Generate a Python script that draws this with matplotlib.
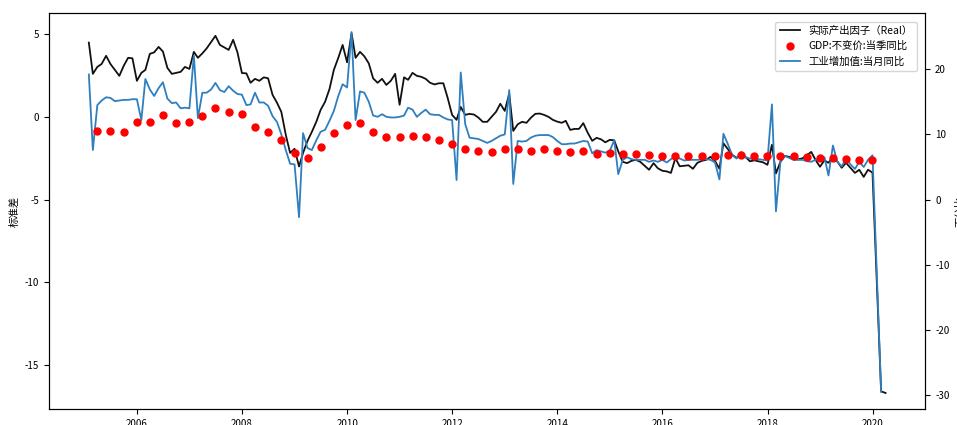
import matplotlib
matplotlib.use('Agg')
import matplotlib.pyplot as plt
import matplotlib.dates as mdates
import pandas as pd

plt.rcParams['font.family'] = ['Noto Sans CJK SC', 'DejaVu Sans']
plt.rcParams['axes.unicode_minus'] = False

# 实际产出因子, monthly (standard deviations)
real_factor = [
    4.49, 2.60, 3.02, 3.2, 3.69, 3.2, 2.84, 2.48, 3.08, 3.57, 3.54, 2.18,
    2.66, 2.84, 3.81, 3.9, 4.23, 3.95, 2.96, 2.6, 2.66, 2.72, 3.02, 2.9,
    3.93, 3.57, 3.84, 4.14, 4.53, 4.9, 4.35, 4.2, 4.05, 4.66, 3.9, 2.65,
    2.63, 2.06, 2.3, 2.18, 2.39, 2.33, 1.33, 0.85, 0.3, -1.09, -2.18, -1.93,
    -3.0, -2.18, -1.45, -0.91, -0.3, 0.42, 0.91, 1.69, 2.84, 3.57, 4.35, 3.3,
    5.06, 3.57, 3.93, 3.66, 3.23, 2.33, 2.06, 2.3, 1.93, 2.18, 2.6, 0.73,
    2.39, 2.24, 2.66, 2.48, 2.42, 2.3, 2.06, 1.96, 2.03, 2.03, 1.15, 0.12,
    -0.18, 0.6, 0.12, 0.18, 0.14, -0.04, -0.3, -0.3, 0.0, 0.3, 0.79, 0.36,
    1.4, -0.85, -0.45, -0.3, -0.36, -0.06, 0.18, 0.2, 0.12, 0.0, -0.18, -0.29,
    -0.36, -0.24, -0.79, -0.73, -0.73, -0.38, -0.97, -1.45, -1.27, -1.36, -1.54, -1.39,
    -1.42, -2.09, -2.72, -2.8, -2.66, -2.6, -2.72, -2.96, -3.2, -2.8, -3.11, -3.26,
    -3.3, -3.39, -2.5, -2.99, -2.96, -2.93, -3.14, -2.78, -2.66, -2.6, -2.42, -2.66,
    -3.14, -1.6, -1.96, -2.3, -2.48, -2.24, -2.42, -2.69, -2.63, -2.69, -2.75, -2.9,
    -1.69, -3.42, -2.72, -2.36, -2.42, -2.54, -2.57, -2.51, -2.33, -2.12, -2.6, -3.02,
    -2.63, -2.78, -2.42, -2.69, -3.08, -2.78, -3.08, -3.39, -3.2, -3.63, -3.2, -3.37,
    -16.6, -16.7,
]

# 工业增加值:当月同比 (%)
industry_yoy = [
    19.2, 7.6, 14.5, 15.2, 15.7, 15.6, 15.1, 15.2, 15.3, 15.3, 15.4, 15.4,
    12.2, 18.5, 16.9, 15.9, 17.1, 18.0, 15.5, 14.8, 14.9, 14.0, 14.1, 14.0,
    22.1, 12.5, 16.4, 16.4, 16.9, 17.9, 16.8, 16.5, 17.4, 16.7, 16.2, 16.1,
    14.5, 14.6, 16.4, 14.9, 14.9, 14.4, 12.8, 11.9, 10.0, 7.6, 5.5, 5.4,
    -2.7, 10.2, 7.9, 7.6, 9.1, 10.4, 10.7, 12.1, 13.6, 15.9, 17.7, 17.2,
    25.7, 12.2, 16.6, 16.4, 15.0, 12.9, 12.7, 13.1, 12.7, 12.6, 12.6, 12.7,
    12.9, 14.1, 13.8, 12.7, 13.3, 13.8, 13.1, 13.0, 13.0, 12.6, 12.3, 12.2,
    3.0, 19.5, 11.6, 9.5, 9.4, 9.3, 9.0, 8.7, 9.0, 9.4, 9.8, 10.0,
    16.8, 2.4, 9.0, 8.9, 9.0, 9.5, 9.8, 9.9, 9.9, 9.9, 9.6, 9.0,
    8.5, 8.5, 8.6, 8.6, 8.8, 9.0, 8.9, 7.1, 7.6, 7.4, 7.2, 7.5,
    9.1, 3.9, 6.1, 6.5, 6.2, 6.1, 6.1, 6.1, 5.8, 6.0, 5.8, 6.1,
    5.7, 6.2, 6.7, 6.3, 6.0, 6.1, 6.1, 6.1, 6.2, 6.2, 6.1, 5.7,
    3.1, 10.1, 8.5, 6.8, 6.3, 7.3, 6.5, 6.3, 6.2, 6.2, 6.1, 6.0,
    14.6, -1.8, 5.8, 6.7, 6.4, 6.1, 6.1, 6.1, 5.9, 5.8, 6.1, 6.3,
    6.5, 3.7, 8.3, 5.8, 5.1, 6.3, 5.4, 4.7, 5.8, 5.0, 6.1, 6.8,
    -29.5,
]

# GDP:不变价:当季同比 (%), quarterly
gdp_yoy = [
    10.5, 10.5, 10.4, 11.9,
    11.9, 13.0, 11.7, 11.9,
    12.9, 14.1, 13.5, 13.1,
    11.1, 10.4, 9.2, 7.1,
    6.4, 8.0, 10.2, 11.4,
    11.7, 10.4, 9.6, 9.6,
    9.8, 9.6, 9.1, 8.5,
    7.8, 7.5, 7.3, 7.8,
    7.7, 7.5, 7.7, 7.5,
    7.3, 7.5, 7.0, 7.2,
    7.0, 7.0, 6.8, 6.7,
    6.7, 6.7, 6.7, 6.7,
    6.9, 6.8, 6.7, 6.7,
    6.7, 6.7, 6.5, 6.4,
    6.4, 6.2, 6.0, 6.0,
]

# dates: month ends, no January 2020 print
months = list(pd.date_range('2005-01-31', '2019-12-31', freq='ME'))
real_dates = months + [pd.Timestamp('2020-02-29'), pd.Timestamp('2020-03-31')]
industry_dates = months + [pd.Timestamp('2020-02-29')]
gdp_dates = pd.date_range('2005-03-31', '2019-12-31', freq='QE')

fig, ax = plt.subplots(figsize=(9.57, 4.25), dpi=100)
fig.subplots_adjust(left=0.0512, right=0.967, bottom=0.038, top=0.969)

l1, = ax.plot(real_dates, real_factor, color='#111111', lw=1.3, label='实际产出因子（Real）')
ax.set_ylabel('标准差', fontsize=7.5)
ax.set_ylim(-17.66, 6.27)
ax.set_yticks([5, 0, -5, -10, -15])

ax2 = ax.twinx()
l3, = ax2.plot(industry_dates, industry_yoy, color='#2f7fbf', lw=1.3, label='工业增加值:当月同比')
l2, = ax2.plot(gdp_dates, gdp_yoy, 'o', color='red', ms=5, label='GDP:不变价:当季同比')
ax2.set_ylabel('百分比', fontsize=7.5)
ax2.set_ylim(-32.1, 28.6)
ax2.set_yticks([20, 10, 0, -10, -20, -30])

ax.xaxis.set_major_locator(mdates.YearLocator(2))
ax.xaxis.set_major_formatter(mdates.DateFormatter('%Y'))

for a in (ax, ax2):
    a.tick_params(labelsize=7, length=3.5, width=0.8)

ax2.legend(handles=[l1, l2, l3], loc='upper right', fontsize=7.5, borderaxespad=0.8)

plt.savefig('out.png', dpi=100)
plt.close()
